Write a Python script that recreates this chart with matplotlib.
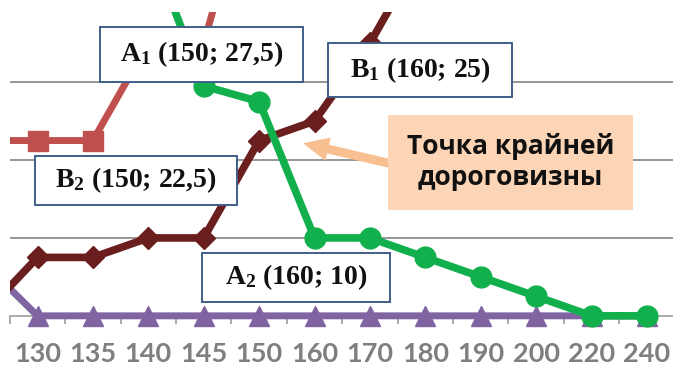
import numpy as np
import matplotlib
matplotlib.use("Agg")
import matplotlib.pyplot as plt
from matplotlib.patches import Rectangle, FancyArrowPatch

# Price levels (category axis) and quantities for each curve
prices = ["125", "130", "135", "140", "145", "150", "160", "170", "180", "190", "200", "220", "240"]
nan = np.nan
red_vals = [22.5, 22.5, 22.5, 35, 35, 60, nan, nan, nan, nan, nan, nan, nan]
brown_vals = [0, 7.5, 7.5, 10, 10, 22.5, 25, 35, 47.5, nan, nan, nan, nan]
green_vals = [nan, nan, nan, 48, 29.5, 27.5, 10, 10, 7.5, 5, 2.5, 0, 0]
purple_vals = [7, 0, 0, 0, 0, 0, 0, 0, 0, 0, 0, 0, 0]

plt.rcParams["mathtext.fontset"] = "custom"
plt.rcParams["mathtext.rm"] = "Liberation Serif:bold"
plt.rcParams["mathtext.it"] = "Liberation Serif:bold"
plt.rcParams["mathtext.bf"] = "Liberation Serif:bold"

W, H = 673, 366
fig = plt.figure(figsize=(W / 100, H / 100), dpi=100)
fig.patch.set_facecolor("white")


def fx(px):
    return px / W


def fy(py):
    return 1 - py / H


ax = fig.add_axes([fx(9.8), fy(347), (674.7 - 9.8) / W, (347 - 12) / H])
x = np.arange(len(prices))

grid_c = "#8E8E8E"
ax.set_yticks([10, 20, 30])
ax.yaxis.grid(True, color=grid_c, linewidth=1.3, zorder=0)
ax.tick_params(axis="y", length=0, labelleft=False)
for s in ["top", "right", "left"]:
    ax.spines[s].set_visible(False)
ax.spines["bottom"].set_position(("data", 0))
ax.spines["bottom"].set_color("#A6A6A6")
ax.spines["bottom"].set_linewidth(1.3)
ax.set_axisbelow(True)

ax.set_xticks(x)
ax.set_xticklabels(prices, fontfamily="Lato", fontweight="bold",
                   fontsize=19.5, color="#7F7F7F")
ax.set_xticks(x[:-1] + 0.5, minor=True)
ax.tick_params(axis="x", which="major", length=0, pad=18.5)
ax.tick_params(axis="x", which="minor", length=6, width=1.3, color="#A6A6A6",
               direction="out")

ax.plot(x, purple_vals, color="#8064A2", linewidth=5, marker="^",
        markersize=14, zorder=3)
ax.plot(x, red_vals, color="#C0504D", linewidth=5, marker="s",
        markersize=14, zorder=4)
ax.plot(x, brown_vals, color="#6A1E1E", linewidth=5.5, marker="D",
        markersize=11, zorder=5)
ax.plot(x, green_vals, color="#12B04C", linewidth=5.5, marker="o",
        markersize=15, zorder=6)

# The first price level sits just outside the visible window
ax.set_xlim(0.5, len(prices) - 0.5)
ax.set_ylim(-4, 39)

# Arrow pointing at the crossing of the curves
arrow = FancyArrowPatch((fx(392), fy(164)), (fx(302), fy(143)),
                        transform=fig.transFigure,
                        arrowstyle="simple,head_width=1.3,head_length=1.4,tail_width=0.45",
                        mutation_scale=12, color="#F8C091", zorder=1)
fig.patches.append(arrow)

# Caption box
fig.patches.append(Rectangle((fx(388), fy(210)), (633 - 388) / W, (210 - 115) / H,
                             transform=fig.transFigure, facecolor="#FBD5B5",
                             edgecolor="none", zorder=2))
fig.text(fx(510.5), fy(162), "Точка крайней\nдороговизны", ha="center",
         va="center", fontfamily="Open Sans", fontweight="bold", fontsize=19,
         linespacing=1.15, color="#111111", zorder=3)

# Point labels
labels = [
    ((100, 27, 303, 82), r"A$_1$ (150; 27,5)"),
    ((328, 43, 512, 97), r"B$_1$ (160; 25)"),
    ((35, 156, 237, 205), r"B$_2$ (150; 22,5)"),
    ((202, 253, 390, 302), r"A$_2$ (160; 10)"),
]
for (x0, y0, x1, y1), txt in labels:
    fig.patches.append(Rectangle((fx(x0), fy(y1)), (x1 - x0) / W, (y1 - y0) / H,
                                 transform=fig.transFigure, facecolor="white",
                                 edgecolor="#3E5F8A", linewidth=1.4, zorder=2))
    fig.text(fx((x0 + x1) / 2), fy((y0 + y1) / 2), txt, ha="center",
             va="center", fontfamily="Liberation Serif", fontweight="bold",
             fontsize=20, color="#111111", zorder=3)

fig.savefig("out.png", dpi=100, facecolor="white")
